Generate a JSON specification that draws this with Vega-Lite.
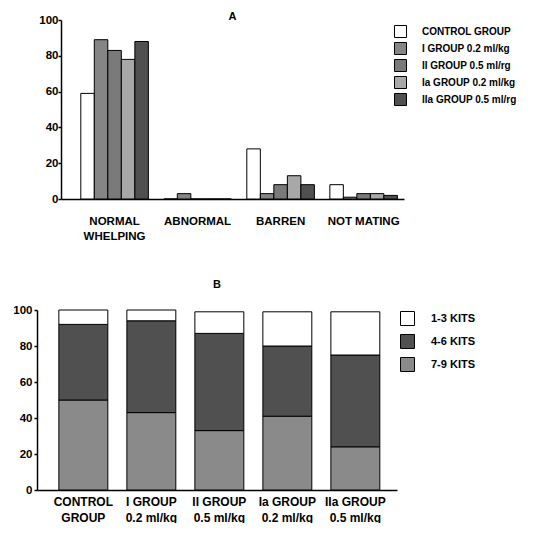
{
  "$schema": "https://vega.github.io/schema/vega-lite/v6.json",
  "padding": {"left": 12, "top": 11, "right": 0, "bottom": 0},
  "background": "white",
  "datasets": {
    "a": [
      {"outcome": "NORMAL WHELPING", "group": "CONTROL GROUP", "value": 59},
      {"outcome": "NORMAL WHELPING", "group": "I GROUP 0.2 ml/kg", "value": 89},
      {"outcome": "NORMAL WHELPING", "group": "II GROUP 0.5 ml/rg", "value": 83},
      {"outcome": "NORMAL WHELPING", "group": "Ia GROUP 0.2 ml/kg", "value": 78},
      {"outcome": "NORMAL WHELPING", "group": "IIa GROUP 0.5 ml/rg", "value": 88},
      {"outcome": "ABNORMAL", "group": "CONTROL GROUP", "value": 0},
      {"outcome": "ABNORMAL", "group": "I GROUP 0.2 ml/kg", "value": 3},
      {"outcome": "ABNORMAL", "group": "II GROUP 0.5 ml/rg", "value": 0},
      {"outcome": "ABNORMAL", "group": "Ia GROUP 0.2 ml/kg", "value": 0},
      {"outcome": "ABNORMAL", "group": "IIa GROUP 0.5 ml/rg", "value": 0},
      {"outcome": "BARREN", "group": "CONTROL GROUP", "value": 28},
      {"outcome": "BARREN", "group": "I GROUP 0.2 ml/kg", "value": 3},
      {"outcome": "BARREN", "group": "II GROUP 0.5 ml/rg", "value": 8},
      {"outcome": "BARREN", "group": "Ia GROUP 0.2 ml/kg", "value": 13},
      {"outcome": "BARREN", "group": "IIa GROUP 0.5 ml/rg", "value": 8},
      {"outcome": "NOT MATING", "group": "CONTROL GROUP", "value": 8},
      {"outcome": "NOT MATING", "group": "I GROUP 0.2 ml/kg", "value": 1},
      {"outcome": "NOT MATING", "group": "II GROUP 0.5 ml/rg", "value": 3},
      {"outcome": "NOT MATING", "group": "Ia GROUP 0.2 ml/kg", "value": 3},
      {"outcome": "NOT MATING", "group": "IIa GROUP 0.5 ml/rg", "value": 2}
    ],
    "b": [
      {"group": "CONTROL GROUP", "kits": "7-9 KITS", "value": 50},
      {"group": "CONTROL GROUP", "kits": "4-6 KITS", "value": 42},
      {"group": "CONTROL GROUP", "kits": "1-3 KITS", "value": 8},
      {"group": "I GROUP 0.2 ml/kg", "kits": "7-9 KITS", "value": 43},
      {"group": "I GROUP 0.2 ml/kg", "kits": "4-6 KITS", "value": 51},
      {"group": "I GROUP 0.2 ml/kg", "kits": "1-3 KITS", "value": 6},
      {"group": "II GROUP 0.5 ml/kg", "kits": "7-9 KITS", "value": 33},
      {"group": "II GROUP 0.5 ml/kg", "kits": "4-6 KITS", "value": 54},
      {"group": "II GROUP 0.5 ml/kg", "kits": "1-3 KITS", "value": 12},
      {"group": "Ia GROUP 0.2 ml/kg", "kits": "7-9 KITS", "value": 41},
      {"group": "Ia GROUP 0.2 ml/kg", "kits": "4-6 KITS", "value": 39},
      {"group": "Ia GROUP 0.2 ml/kg", "kits": "1-3 KITS", "value": 19},
      {"group": "IIa GROUP 0.5 ml/kg", "kits": "7-9 KITS", "value": 24},
      {"group": "IIa GROUP 0.5 ml/kg", "kits": "4-6 KITS", "value": 51},
      {"group": "IIa GROUP 0.5 ml/kg", "kits": "1-3 KITS", "value": 24}
    ]
  },
  "spacing": 37,
  "resolve": {
    "scale": {"x": "independent", "y": "independent", "fill": "independent", "xOffset": "independent"},
    "legend": {"fill": "independent"}
  },
  "vconcat": [
    {
      "spacing": 0,
      "hconcat": [
        {
          "width": 1,
          "height": 179,
          "data": {"values": []},
          "mark": {"type": "point", "opacity": 0}
        },
        {
          "title": {"text": "A", "fontSize": 11, "fontWeight": "bold", "font": "Liberation Sans", "color": "black", "offset": 0, "dy": 8},
          "width": 343,
          "height": 179,
          "data": {"name": "a"},
          "mark": {"type": "bar", "stroke": "black", "strokeWidth": 1},
          "encoding": {
            "x": {
              "field": "outcome", "type": "nominal",
              "sort": ["NORMAL WHELPING", "ABNORMAL", "BARREN", "NOT MATING"],
              "scale": {"paddingInner": 0.186, "paddingOuter": 0.159, "align": 0.75},
              "axis": {"title": null, "labelAngle": 0, "ticks": false, "labelPadding": 16, "labelLineHeight": 15,
                       "labelExpr": "datum.label == 'NORMAL WHELPING' ? ['NORMAL', 'WHELPING'] : datum.label"}
            },
            "xOffset": {
              "field": "group", "type": "nominal",
              "sort": ["CONTROL GROUP", "I GROUP 0.2 ml/kg", "II GROUP 0.5 ml/rg", "Ia GROUP 0.2 ml/kg", "IIa GROUP 0.5 ml/rg"],
              "scale": {"paddingInner": 0, "paddingOuter": 0}
            },
            "y": {
              "field": "value", "type": "quantitative",
              "scale": {"domain": [0, 100]},
              "axis": {"values": [0, 20, 40, 60, 80, 100], "grid": false, "title": null, "labelPadding": 0}
            },
            "fill": {
              "field": "group", "type": "nominal",
              "sort": ["CONTROL GROUP", "I GROUP 0.2 ml/kg", "II GROUP 0.5 ml/rg", "Ia GROUP 0.2 ml/kg", "IIa GROUP 0.5 ml/rg"],
              "scale": {
                "domain": ["CONTROL GROUP", "I GROUP 0.2 ml/kg", "II GROUP 0.5 ml/rg", "Ia GROUP 0.2 ml/kg", "IIa GROUP 0.5 ml/rg"],
                "range": ["#ffffff", "#858585", "#7a7a7a", "#a8a8a8", "#505050"]
              },
              "legend": {
                "title": null, "orient": "none", "legendX": 357, "legendY": 5,
                "symbolType": "square", "symbolSize": 144, "symbolStrokeColor": "black", "symbolStrokeWidth": 1,
                "rowPadding": 0, "labelOffset": 15, "labelFontSize": 10
              }
            }
          }
        }
      ]
    },
    {
      "title": {"text": "B", "fontSize": 11, "fontWeight": "bold", "font": "Liberation Sans", "color": "black", "offset": 14},
      "width": 360,
      "height": 180,
      "data": {"name": "b"},
      "mark": {"type": "bar", "stroke": "black", "strokeWidth": 1},
      "encoding": {
        "x": {
          "field": "group", "type": "nominal",
          "sort": ["CONTROL GROUP", "I GROUP 0.2 ml/kg", "II GROUP 0.5 ml/kg", "Ia GROUP 0.2 ml/kg", "IIa GROUP 0.5 ml/kg"],
          "scale": {"paddingInner": 0.28, "paddingOuter": 0.287, "align": 0.56},
          "axis": {"title": null, "labelAngle": 0, "ticks": false, "labelPadding": 6, "labelLineHeight": 16, "labelFontSize": 12,
                   "labelExpr": "indexof(datum.label, ' 0.') > 0 ? [substring(datum.label, 0, indexof(datum.label, ' 0.')), substring(datum.label, indexof(datum.label, ' 0.') + 1)] : split(datum.label, ' ')"}
        },
        "y": {
          "field": "value", "type": "quantitative", "stack": "zero",
          "scale": {"domain": [0, 100]},
          "axis": {"values": [0, 20, 40, 60, 80, 100], "grid": false, "title": null}
        },
        "order": {"field": "kits", "sort": "descending"},
        "fill": {
          "field": "kits", "type": "nominal",
          "scale": {
            "domain": ["1-3 KITS", "4-6 KITS", "7-9 KITS"],
            "range": ["#ffffff", "#505050", "#8a8a8a"]
          },
          "legend": {
            "title": null, "orient": "none", "legendX": 363, "legendY": 1,
            "symbolType": "square", "symbolSize": 196, "symbolStrokeColor": "black", "symbolStrokeWidth": 1,
            "rowPadding": 4, "labelOffset": 16, "labelFontSize": 11
          }
        }
      }
    }
  ],
  "config": {
    "view": {"stroke": null},
    "font": "Liberation Sans",
    "axis": {
      "labelFont": "Liberation Sans", "labelFontSize": 11.5, "labelFontWeight": "bold", "labelColor": "black",
      "domainColor": "black", "domainWidth": 1.5, "tickColor": "black", "tickWidth": 1.5, "tickSize": 3, "labelPadding": 2
    },
    "legend": {
      "labelFont": "Liberation Sans", "labelFontSize": 10, "labelFontWeight": "bold", "labelColor": "black"
    }
  }
}
